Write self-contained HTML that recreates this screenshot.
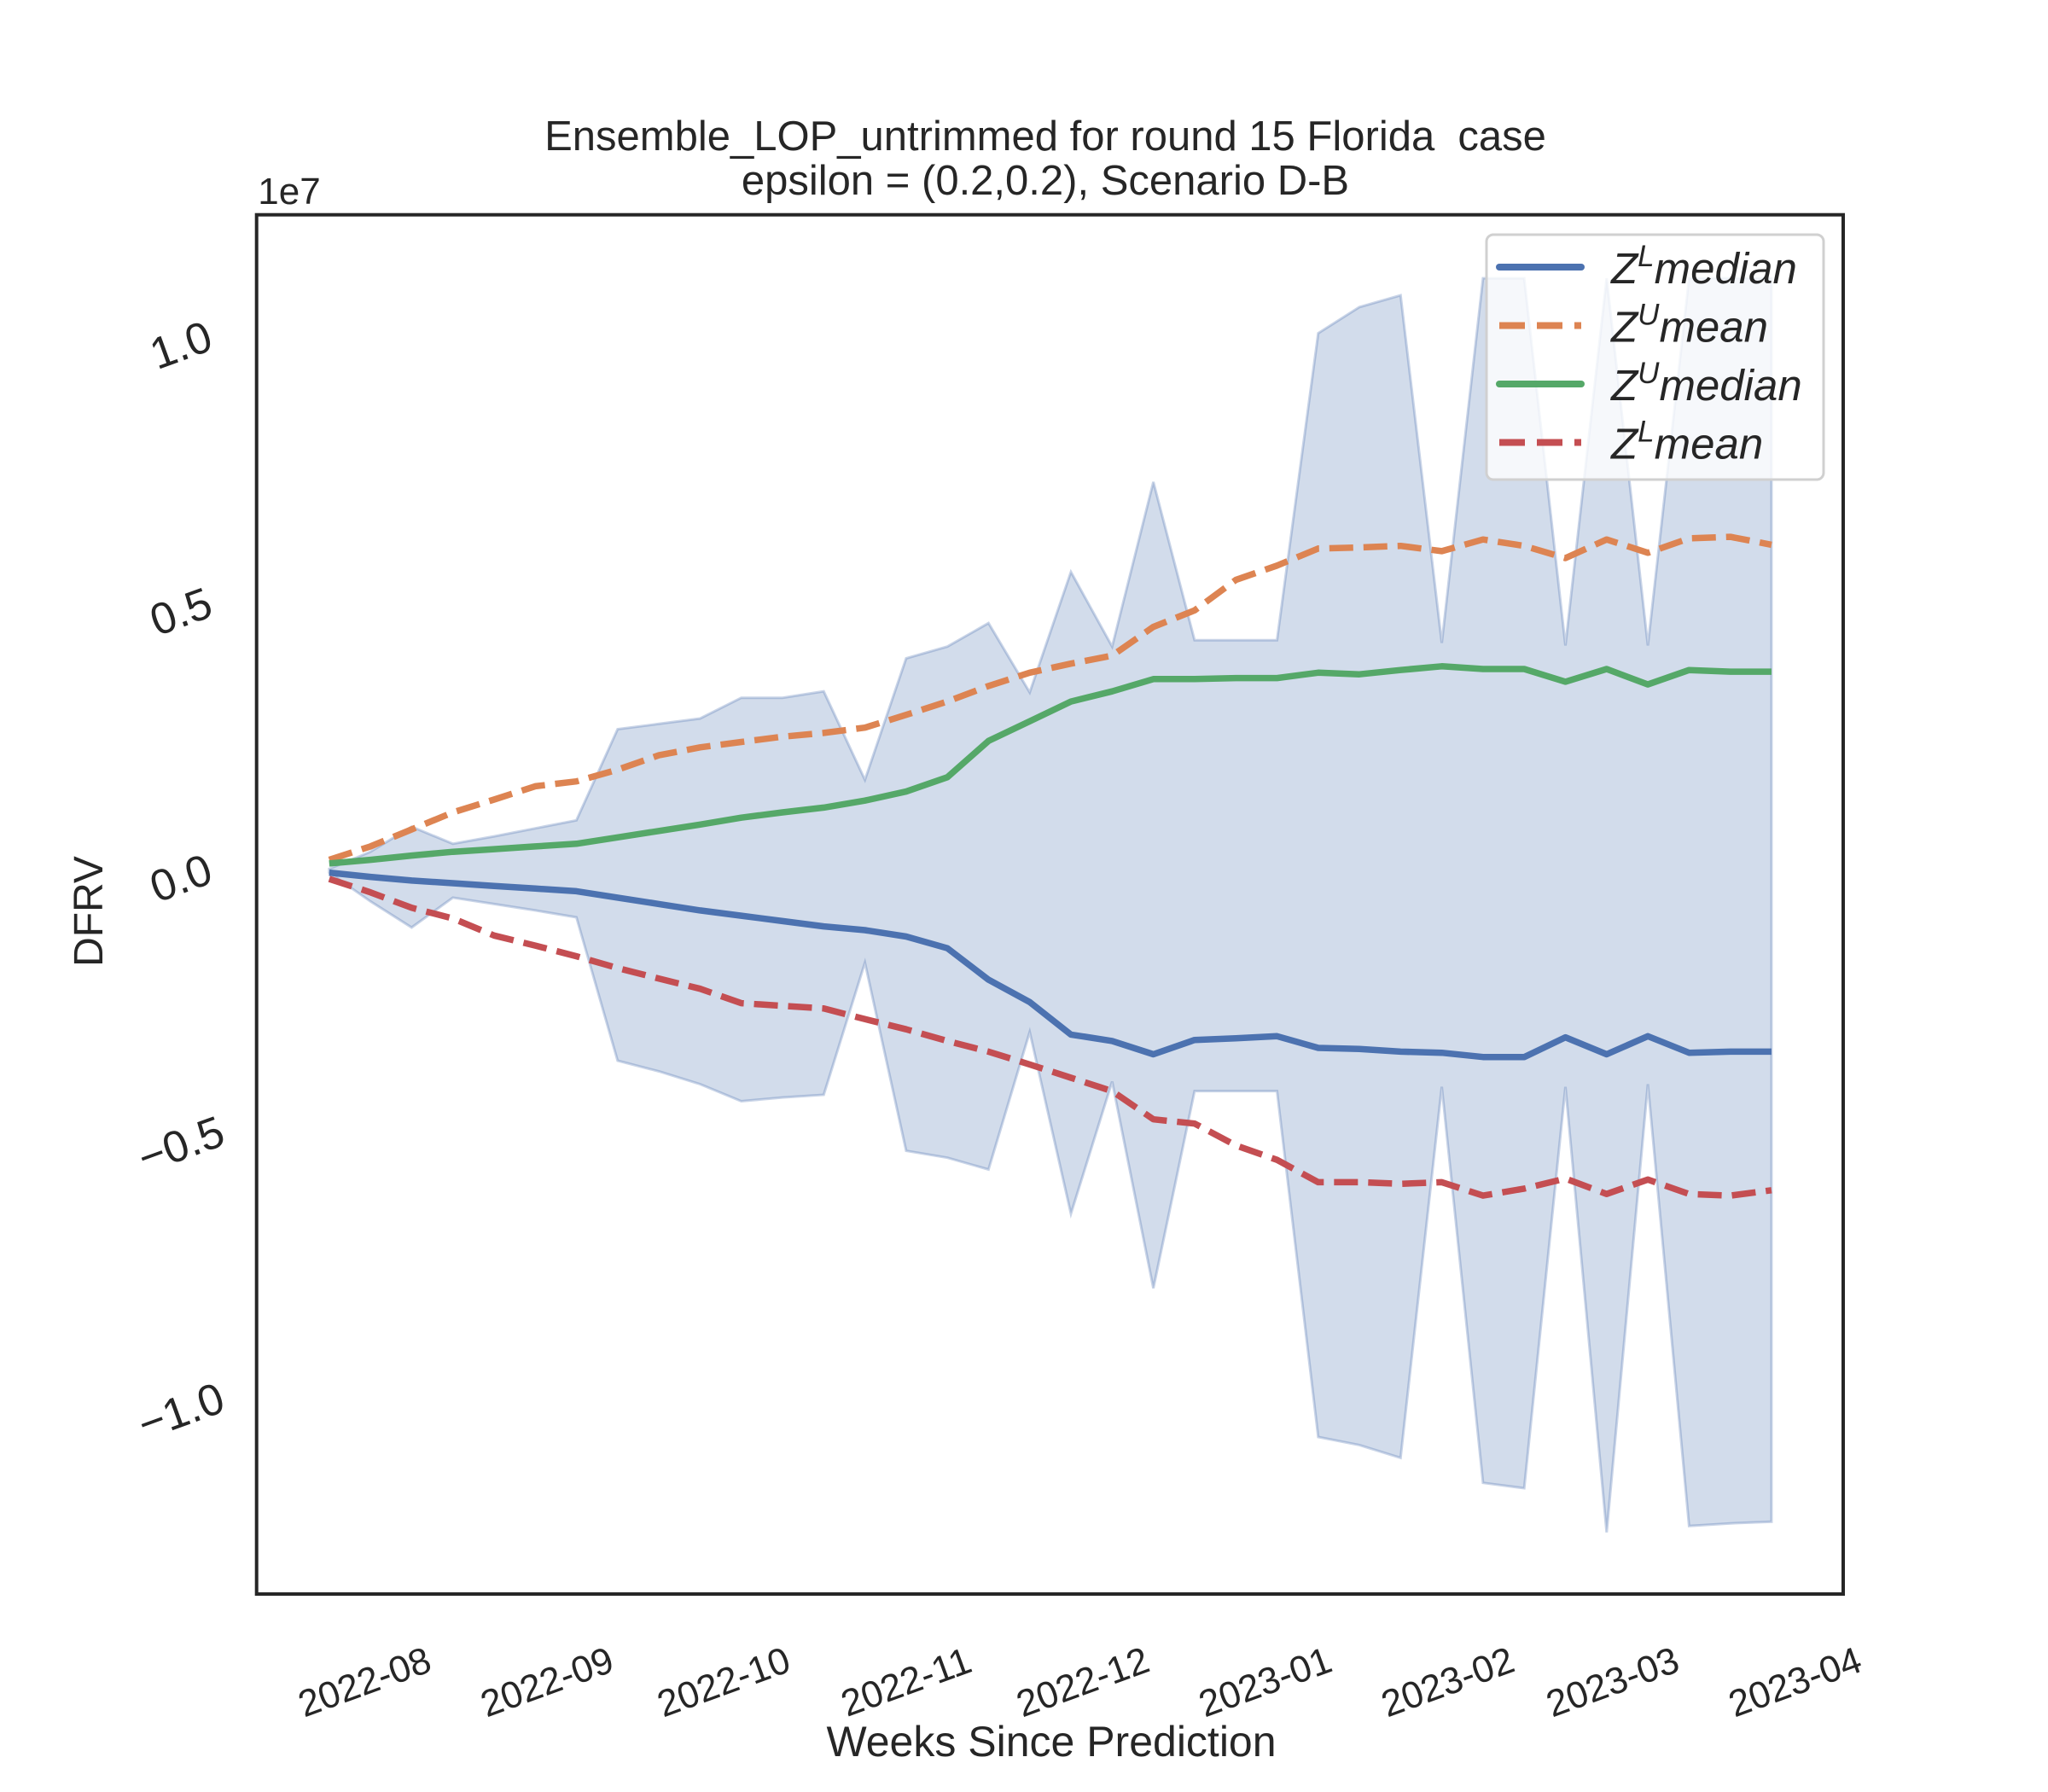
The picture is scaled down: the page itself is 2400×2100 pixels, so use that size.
<!DOCTYPE html>
<html><head><meta charset="utf-8"><style>body{margin:0;background:#fff}svg{display:block}text{font-family:"Liberation Sans","DejaVu Sans",sans-serif;fill:#262626;white-space:pre}</style></head>
<body>
<svg id="c" width="2400" height="2100" viewBox="0 0 2400 2100" xmlns="http://www.w3.org/2000/svg">
</svg>
<script>
const startDate = "2022-07-26";
const zuMean = [0.34,0.59,0.91,1.23,1.47,1.72,1.81,2.03,2.30,2.45,2.55,2.65,2.72,2.82,3.06,3.31,3.60,3.85,4.02,4.17,4.71,5.02,5.59,5.86,6.18,6.20,6.23,6.13,6.35,6.23,6.00,6.35,6.10,6.37,6.40,6.25];
const zuMedian = [0.27,0.34,0.42,0.49,0.54,0.59,0.64,0.76,0.88,1.00,1.13,1.23,1.32,1.45,1.62,1.89,2.57,2.94,3.31,3.50,3.73,3.73,3.75,3.75,3.85,3.82,3.90,3.97,3.92,3.92,3.68,3.92,3.63,3.90,3.87,3.87];
const zlMedian = [0.10,0.02,-0.05,-0.10,-0.15,-0.20,-0.25,-0.37,-0.49,-0.61,-0.71,-0.81,-0.91,-0.98,-1.10,-1.32,-1.91,-2.33,-2.94,-3.06,-3.31,-3.04,-3.01,-2.97,-3.19,-3.21,-3.26,-3.28,-3.36,-3.36,-2.99,-3.31,-2.97,-3.28,-3.26,-3.26];
const zlMean = [-0.02,-0.27,-0.56,-0.76,-1.08,-1.27,-1.47,-1.69,-1.89,-2.08,-2.35,-2.40,-2.45,-2.65,-2.84,-3.06,-3.26,-3.50,-3.75,-4.00,-4.53,-4.61,-5.02,-5.29,-5.71,-5.71,-5.74,-5.71,-5.96,-5.83,-5.64,-5.93,-5.66,-5.93,-5.96,-5.86];
const bandUpper = [0.17,0.49,0.96,0.64,0.78,0.93,1.08,2.79,2.89,2.99,3.38,3.38,3.50,1.84,4.12,4.34,4.78,3.48,5.74,4.34,7.43,4.46,4.46,4.46,10.22,10.71,10.93,4.41,11.25,11.25,4.36,11.25,4.36,11.25,11.25,11.25];
const bandLower = [0.10,-0.44,-0.93,-0.37,-0.49,-0.61,-0.74,-3.43,-3.63,-3.87,-4.19,-4.12,-4.07,-1.59,-5.12,-5.25,-5.47,-2.89,-6.30,-3.82,-7.70,-4.00,-4.00,-4.00,-10.49,-10.64,-10.88,-3.92,-11.35,-11.45,-3.92,-12.28,-3.87,-12.16,-12.11,-12.08];
const xTickLabels = ["2022-08","2022-09","2022-10","2022-11","2022-12","2023-01","2023-02","2023-03","2023-04"];
const yTicks = [-10,-5,0,5,10];
const yTickLabels = ["\u22121.0","\u22120.5","0.0","0.5","1.0"];

const NS="http://www.w3.org/2000/svg";
const svg=document.getElementById('c');
const L=300.7,R=2160,T=251.7,B=1868;
const x0=385.8,stepDay=48.29/7;
const t0=Date.parse(startDate);
function xIdx(i){return x0+i*7*stepDay;}
function xDate(s){return x0+(Date.parse(s+"-01")-t0)/86400000*stepDay;}
function y(v){return 1028.8-v*62.46;}
function mk(tag,attrs,parent){const e=document.createElementNS(NS,tag);for(const k in attrs)e.setAttribute(k,attrs[k]);(parent||svg).appendChild(e);return e;}

let d="";
bandUpper.forEach((v,i)=>{d+=(i?"L":"M")+xIdx(i).toFixed(1)+","+y(v).toFixed(1);});
for(let i=bandLower.length-1;i>=0;i--)d+="L"+xIdx(i).toFixed(1)+","+y(bandLower[i]).toFixed(1);
const band=mk('path',{d:d+"Z",fill:"#4c72b0","fill-opacity":"0.25",stroke:"#4c72b0","stroke-opacity":"0.3","stroke-width":"3"});



function line(arr,color,dash,name){
  const p=arr.map((v,i)=>(i?"L":"M")+xIdx(i).toFixed(1)+","+y(v).toFixed(1)).join("");
  const a={d:p,fill:"none",stroke:color,"stroke-width":"7.5","stroke-linejoin":"round"};
  if(dash)a["stroke-dasharray"]=dash;
  const e=mk('path',a);
  
  
}
line(zlMedian,"#4c72b0",null,"zl-median-line");
line(zuMean,"#dd8452","28,12","zu-mean-line");
line(zuMedian,"#55a868",null,"zu-median-line");
line(zlMean,"#c44e52","28,12","zl-mean-line");

const fr=mk('rect',{x:L,y:T,width:R-L,height:B-T,fill:"none",stroke:"#262626","stroke-width":"4"});



yTicks.forEach((v,i)=>{
  const yy=y(v);
  const t=mk('text',{x:212,y:yy+18,"font-size":"52","text-anchor":"middle",transform:`rotate(-20 212 ${yy})`});
  t.textContent=yTickLabels[i];
  
  
});
xTickLabels.forEach(s=>{
  const xx=xDate(s);
  const t=mk('text',{x:xx,y:1986,"font-size":"44","text-anchor":"middle",transform:`rotate(-20 ${xx} 1971)`});
  t.textContent=s;
  
  
});
function txt(s,x,yy,size,name,extra){const t=mk('text',Object.assign({x:x,y:yy,"font-size":size,"text-anchor":"middle"},extra||{}));t.textContent=s;return t;}
txt("1e7",339,239,44,"y-offset-label");
txt("Ensemble_LOP_untrimmed for round 15 Florida  case",1225,176,49,"chart-title");
txt("epsilon = (0.2,0.2), Scenario D-B",1225,228,49,"chart-subtitle");
txt("Weeks Since Prediction",1232,2058,50,"x-axis-title");
txt("DFRV",0,0,48,"y-axis-title",{transform:"translate(120 1068) rotate(-90)"});

const lg=mk('g',{});


const lb=mk('rect',{x:1742,y:275,width:395,height:287,rx:8,fill:"#fff","fill-opacity":"0.8",stroke:"#d0d0d0","stroke-width":"3"},lg);


const ents=[["#4c72b0",null,"L","median"],["#dd8452","30,14","U","mean"],["#55a868",null,"U","median"],["#c44e52","30,14","L","mean"]];
ents.forEach((e,i)=>{
  const yy=313+i*68.5;
  const g=mk('g',{},lg);
  
  
  const a={x1:1757,x2:1853,y1:yy,y2:yy,stroke:e[0],"stroke-width":"8"};
  if(e[1])a["stroke-dasharray"]=e[1];else a["stroke-linecap"]="round";
  mk('line',a,g);
  const t=mk('text',{x:1888,y:yy+19,"font-size":"51","font-style":"italic"},g);
  t.innerHTML=`Z<tspan dy="-20" font-size="35">${e[2]}</tspan><tspan dy="20">${e[3]}</tspan>`;
});
</script>
</body></html>
